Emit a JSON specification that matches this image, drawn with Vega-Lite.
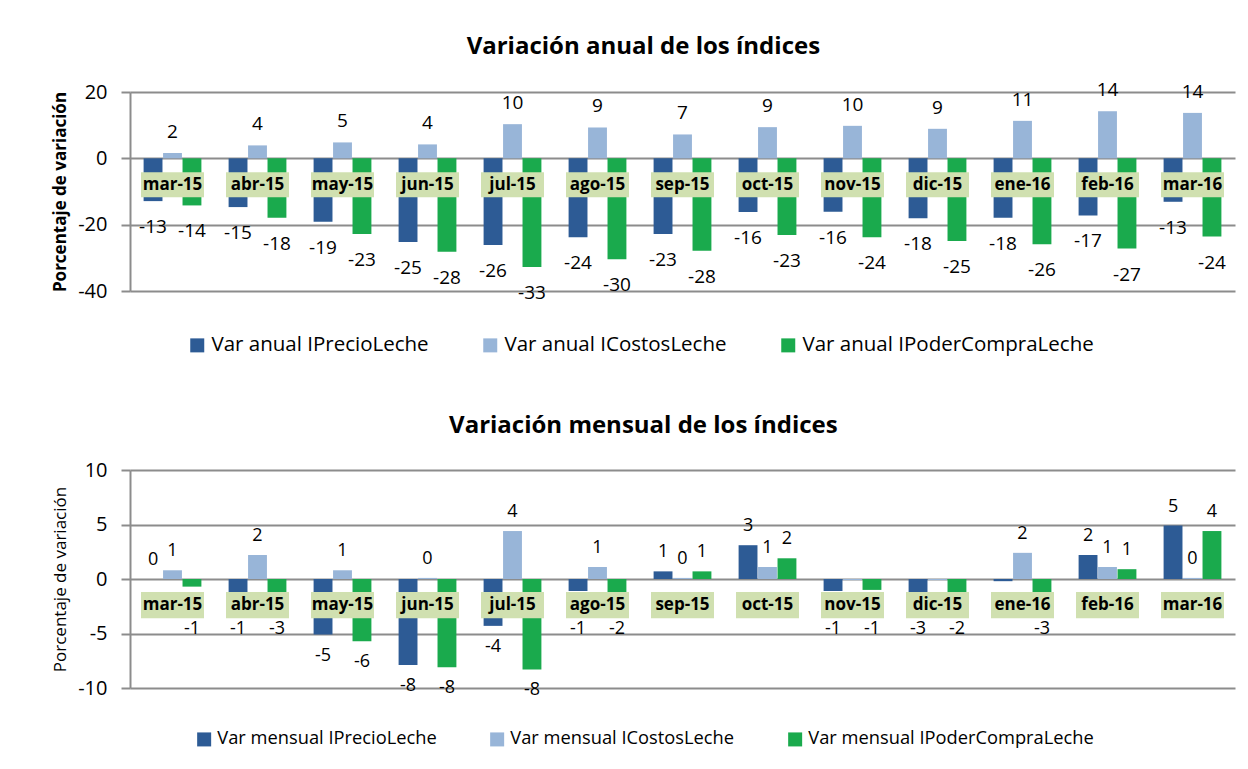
{
  "$schema": "https://vega.github.io/schema/vega-lite/v6.json",
  "background": "white",
  "padding": {"left": 51, "top": 35, "right": 12, "bottom": 10},
  "spacing": 58,
  "config": {
    "font": "Open Sans",
    "view": {"stroke": null},
    "locale": {"number": {"decimal": ".", "thousands": ",", "grouping": [3], "currency": ["$", ""], "minus": "-"}},
    "axis": {
      "gridColor": "#8c8c8c", "gridWidth": 2, "domainColor": "#8c8c8c", "domainWidth": 2,
      "tickColor": "#8c8c8c", "tickWidth": 2, "tickSize": 9, "labelFontSize": 20, "labelColor": "#000000",
      "labelPadding": 14, "titleColor": "#000000", "titleFontSize": 17, "titlePadding": 8
    },
    "title": {"fontSize": 24, "fontWeight": "bold", "color": "#000000", "anchor": "middle", "frame": "bounds", "offset": 22},
    "legend": {
      "orient": "none", "direction": "horizontal", "title": null, "labelColor": "#000000",
      "symbolType": "square", "symbolSize": 196, "symbolStrokeWidth": 0, "columnPadding": 51, "labelOffset": 4, "labelLimit": 0
    }
  },
  "resolve": {"scale": {"color": "independent", "xOffset": "independent"}, "legend": {"color": "independent"}},
  "datasets": {
    "anual": [
      {"mes": "mar-15", "serie": "Var anual IPrecioLeche", "valor": -12.9},
      {"mes": "abr-15", "serie": "Var anual IPrecioLeche", "valor": -14.7},
      {"mes": "may-15", "serie": "Var anual IPrecioLeche", "valor": -19.1},
      {"mes": "jun-15", "serie": "Var anual IPrecioLeche", "valor": -25.2},
      {"mes": "jul-15", "serie": "Var anual IPrecioLeche", "valor": -26.1},
      {"mes": "ago-15", "serie": "Var anual IPrecioLeche", "valor": -23.8},
      {"mes": "sep-15", "serie": "Var anual IPrecioLeche", "valor": -22.8},
      {"mes": "oct-15", "serie": "Var anual IPrecioLeche", "valor": -16.2},
      {"mes": "nov-15", "serie": "Var anual IPrecioLeche", "valor": -16.1},
      {"mes": "dic-15", "serie": "Var anual IPrecioLeche", "valor": -18.1},
      {"mes": "ene-16", "serie": "Var anual IPrecioLeche", "valor": -17.9},
      {"mes": "feb-16", "serie": "Var anual IPrecioLeche", "valor": -17.2},
      {"mes": "mar-16", "serie": "Var anual IPrecioLeche", "valor": -13.1},
      {"mes": "mar-15", "serie": "Var anual ICostosLeche", "valor": 1.6},
      {"mes": "abr-15", "serie": "Var anual ICostosLeche", "valor": 3.9},
      {"mes": "may-15", "serie": "Var anual ICostosLeche", "valor": 4.8},
      {"mes": "jun-15", "serie": "Var anual ICostosLeche", "valor": 4.2},
      {"mes": "jul-15", "serie": "Var anual ICostosLeche", "valor": 10.3},
      {"mes": "ago-15", "serie": "Var anual ICostosLeche", "valor": 9.3},
      {"mes": "sep-15", "serie": "Var anual ICostosLeche", "valor": 7.2},
      {"mes": "oct-15", "serie": "Var anual ICostosLeche", "valor": 9.4},
      {"mes": "nov-15", "serie": "Var anual ICostosLeche", "valor": 9.8},
      {"mes": "dic-15", "serie": "Var anual ICostosLeche", "valor": 8.9},
      {"mes": "ene-16", "serie": "Var anual ICostosLeche", "valor": 11.3},
      {"mes": "feb-16", "serie": "Var anual ICostosLeche", "valor": 14.2},
      {"mes": "mar-16", "serie": "Var anual ICostosLeche", "valor": 13.7},
      {"mes": "mar-15", "serie": "Var anual IPoderCompraLeche", "valor": -14.2},
      {"mes": "abr-15", "serie": "Var anual IPoderCompraLeche", "valor": -17.9},
      {"mes": "may-15", "serie": "Var anual IPoderCompraLeche", "valor": -22.8},
      {"mes": "jun-15", "serie": "Var anual IPoderCompraLeche", "valor": -28.2},
      {"mes": "jul-15", "serie": "Var anual IPoderCompraLeche", "valor": -32.8},
      {"mes": "ago-15", "serie": "Var anual IPoderCompraLeche", "valor": -30.4},
      {"mes": "sep-15", "serie": "Var anual IPoderCompraLeche", "valor": -27.9},
      {"mes": "oct-15", "serie": "Var anual IPoderCompraLeche", "valor": -23.1},
      {"mes": "nov-15", "serie": "Var anual IPoderCompraLeche", "valor": -23.8},
      {"mes": "dic-15", "serie": "Var anual IPoderCompraLeche", "valor": -24.9},
      {"mes": "ene-16", "serie": "Var anual IPoderCompraLeche", "valor": -25.9},
      {"mes": "feb-16", "serie": "Var anual IPoderCompraLeche", "valor": -27.2},
      {"mes": "mar-16", "serie": "Var anual IPoderCompraLeche", "valor": -23.6}
    ],
    "mensual": [
      {"mes": "mar-15", "serie": "Var mensual IPrecioLeche", "valor": 0.0},
      {"mes": "abr-15", "serie": "Var mensual IPrecioLeche", "valor": -1.2},
      {"mes": "may-15", "serie": "Var mensual IPrecioLeche", "valor": -5.1},
      {"mes": "jun-15", "serie": "Var mensual IPrecioLeche", "valor": -7.9},
      {"mes": "jul-15", "serie": "Var mensual IPrecioLeche", "valor": -4.3},
      {"mes": "ago-15", "serie": "Var mensual IPrecioLeche", "valor": -1.1},
      {"mes": "sep-15", "serie": "Var mensual IPrecioLeche", "valor": 0.7},
      {"mes": "oct-15", "serie": "Var mensual IPrecioLeche", "valor": 3.1},
      {"mes": "nov-15", "serie": "Var mensual IPrecioLeche", "valor": -1.1},
      {"mes": "dic-15", "serie": "Var mensual IPrecioLeche", "valor": -2.9},
      {"mes": "ene-16", "serie": "Var mensual IPrecioLeche", "valor": -0.2},
      {"mes": "feb-16", "serie": "Var mensual IPrecioLeche", "valor": 2.2},
      {"mes": "mar-16", "serie": "Var mensual IPrecioLeche", "valor": 4.9},
      {"mes": "mar-15", "serie": "Var mensual ICostosLeche", "valor": 0.8},
      {"mes": "abr-15", "serie": "Var mensual ICostosLeche", "valor": 2.2},
      {"mes": "may-15", "serie": "Var mensual ICostosLeche", "valor": 0.8},
      {"mes": "jun-15", "serie": "Var mensual ICostosLeche", "valor": 0.1},
      {"mes": "jul-15", "serie": "Var mensual ICostosLeche", "valor": 4.4},
      {"mes": "ago-15", "serie": "Var mensual ICostosLeche", "valor": 1.1},
      {"mes": "sep-15", "serie": "Var mensual ICostosLeche", "valor": 0.1},
      {"mes": "oct-15", "serie": "Var mensual ICostosLeche", "valor": 1.1},
      {"mes": "nov-15", "serie": "Var mensual ICostosLeche", "valor": -0.1},
      {"mes": "dic-15", "serie": "Var mensual ICostosLeche", "valor": -0.1},
      {"mes": "ene-16", "serie": "Var mensual ICostosLeche", "valor": 2.4},
      {"mes": "feb-16", "serie": "Var mensual ICostosLeche", "valor": 1.1},
      {"mes": "mar-16", "serie": "Var mensual ICostosLeche", "valor": 0.1},
      {"mes": "mar-15", "serie": "Var mensual IPoderCompraLeche", "valor": -0.7},
      {"mes": "abr-15", "serie": "Var mensual IPoderCompraLeche", "valor": -2.8},
      {"mes": "may-15", "serie": "Var mensual IPoderCompraLeche", "valor": -5.7},
      {"mes": "jun-15", "serie": "Var mensual IPoderCompraLeche", "valor": -8.1},
      {"mes": "jul-15", "serie": "Var mensual IPoderCompraLeche", "valor": -8.3},
      {"mes": "ago-15", "serie": "Var mensual IPoderCompraLeche", "valor": -1.8},
      {"mes": "sep-15", "serie": "Var mensual IPoderCompraLeche", "valor": 0.7},
      {"mes": "oct-15", "serie": "Var mensual IPoderCompraLeche", "valor": 1.9},
      {"mes": "nov-15", "serie": "Var mensual IPoderCompraLeche", "valor": -1.0},
      {"mes": "dic-15", "serie": "Var mensual IPoderCompraLeche", "valor": -2.2},
      {"mes": "ene-16", "serie": "Var mensual IPoderCompraLeche", "valor": -2.7},
      {"mes": "feb-16", "serie": "Var mensual IPoderCompraLeche", "valor": 0.9},
      {"mes": "mar-16", "serie": "Var mensual IPoderCompraLeche", "valor": 4.4}
    ]
  },
  "vconcat": [
    {
      "data": {"name": "anual"},
      "width": 1105,
      "height": 199,
      "title": {"text": "Variación anual de los índices"},
      "encoding": {
        "x": {"field": "mes", "type": "nominal", "axis": null,
              "scale": {"domain": ["mar-15","abr-15","may-15","jun-15","jul-15","ago-15","sep-15","oct-15","nov-15","dic-15","ene-16","feb-16","mar-16"], "paddingInner": 0.32, "paddingOuter": 0.16}}
      },
      "layer": [
        {
          "mark": {"type": "bar"},
          "encoding": {
            "xOffset": {"field": "serie", "type": "nominal", "scale": {"domain": ["Var anual IPrecioLeche", "Var anual ICostosLeche", "Var anual IPoderCompraLeche"], "paddingInner": 0.03, "paddingOuter": 0}},
            "y": {"field": "valor", "type": "quantitative", "scale": {"domain": [-40, 20], "nice": false},
                  "axis": {"values": [-40, -20, 0, 20], "title": "Porcentaje de variación", "titleFontWeight": "bold"}},
            "color": {"field": "serie", "type": "nominal",
                      "scale": {"domain": ["Var anual IPrecioLeche", "Var anual ICostosLeche", "Var anual IPoderCompraLeche"], "range": ["#2d5b95", "#98b5d8", "#1aaa4d"]},
                      "legend": {"legendX": 57, "legendY": 243, "labelFontSize": 20.5}}
          }
        },
        {
          "transform": [{"filter": "datum.valor >= 0"}],
          "mark": {"type": "text", "baseline": "bottom", "dy": -11, "fontSize": 19, "color": "#000000"},
          "encoding": {
            "xOffset": {"field": "serie", "type": "nominal", "scale": {"domain": ["Var anual IPrecioLeche", "Var anual ICostosLeche", "Var anual IPoderCompraLeche"]}},
            "y": {"field": "valor", "type": "quantitative"},
            "text": {"field": "valor", "type": "quantitative", "format": ".0f"}
          }
        },
        {
          "transform": [{"filter": "datum.valor < 0"}],
          "mark": {"type": "text", "baseline": "top", "dy": 17, "fontSize": 19, "color": "#000000"},
          "encoding": {
            "xOffset": {"field": "serie", "type": "nominal", "scale": {"domain": ["Var anual IPrecioLeche", "Var anual ICostosLeche", "Var anual IPoderCompraLeche"]}},
            "y": {"field": "valor", "type": "quantitative"},
            "text": {"field": "valor", "type": "quantitative", "format": ".0f"}
          }
        },
        {
          "transform": [{"filter": "datum.serie === 'Var anual IPrecioLeche'"}],
          "mark": {"type": "bar", "width": 63, "color": "#d0e0b0"},
          "encoding": {"y": {"datum": -4.2}, "y2": {"datum": -11.7}}
        },
        {
          "transform": [{"filter": "datum.serie === 'Var anual IPrecioLeche'"}],
          "mark": {"type": "text", "fontSize": 17, "fontWeight": "bold", "color": "#000000"},
          "encoding": {"y": {"datum": -8}, "text": {"field": "mes"}}
        }
      ]
    },
    {
      "data": {"name": "mensual"},
      "width": 1105,
      "height": 218,
      "title": {"text": "Variación mensual de los índices"},
      "encoding": {
        "x": {"field": "mes", "type": "nominal", "axis": null,
              "scale": {"domain": ["mar-15","abr-15","may-15","jun-15","jul-15","ago-15","sep-15","oct-15","nov-15","dic-15","ene-16","feb-16","mar-16"], "paddingInner": 0.32, "paddingOuter": 0.16}}
      },
      "layer": [
        {
          "mark": {"type": "bar"},
          "encoding": {
            "xOffset": {"field": "serie", "type": "nominal", "scale": {"domain": ["Var mensual IPrecioLeche", "Var mensual ICostosLeche", "Var mensual IPoderCompraLeche"], "paddingInner": 0.03, "paddingOuter": 0}},
            "y": {"field": "valor", "type": "quantitative", "scale": {"domain": [-10, 10], "nice": false},
                  "axis": {"values": [-10, -5, 0, 5, 10], "title": "Porcentaje de variación", "titleFontWeight": "normal"}},
            "color": {"field": "serie", "type": "nominal",
                      "scale": {"domain": ["Var mensual IPrecioLeche", "Var mensual ICostosLeche", "Var mensual IPoderCompraLeche"], "range": ["#2d5b95", "#98b5d8", "#1aaa4d"]},
                      "legend": {"legendX": 65, "legendY": 260, "labelFontSize": 18.3}}
          }
        },
        {
          "mark": {"type": "rule", "color": "#3a1e00", "strokeWidth": 2.5},
          "encoding": {"y": {"datum": 0}}
        },
        {
          "transform": [{"filter": "datum.valor >= 0"}],
          "mark": {"type": "text", "baseline": "bottom", "dy": -10, "fontSize": 18, "color": "#000000"},
          "encoding": {
            "xOffset": {"field": "serie", "type": "nominal", "scale": {"domain": ["Var mensual IPrecioLeche", "Var mensual ICostosLeche", "Var mensual IPoderCompraLeche"]}},
            "y": {"field": "valor", "type": "quantitative"},
            "text": {"field": "valor", "type": "quantitative", "format": ".0f"}
          }
        },
        {
          "transform": [{"filter": "datum.valor < -0.5 && datum.valor >= -3.5"}],
          "mark": {"type": "text", "baseline": "top", "dy": 2, "fontSize": 18, "color": "#000000"},
          "encoding": {
            "xOffset": {"field": "serie", "type": "nominal", "scale": {"domain": ["Var mensual IPrecioLeche", "Var mensual ICostosLeche", "Var mensual IPoderCompraLeche"]}},
            "y": {"datum": -3.6},
            "text": {"field": "valor", "type": "quantitative", "format": ".0f"}
          }
        },
        {
          "transform": [{"filter": "datum.valor < -3.5"}],
          "mark": {"type": "text", "baseline": "top", "dy": 12, "fontSize": 18, "color": "#000000"},
          "encoding": {
            "xOffset": {"field": "serie", "type": "nominal", "scale": {"domain": ["Var mensual IPrecioLeche", "Var mensual ICostosLeche", "Var mensual IPoderCompraLeche"]}},
            "y": {"field": "valor", "type": "quantitative"},
            "text": {"field": "valor", "type": "quantitative", "format": ".0f"}
          }
        },
        {
          "transform": [{"filter": "datum.serie === 'Var mensual IPrecioLeche'"}],
          "mark": {"type": "bar", "width": 63, "color": "#d0e0b0"},
          "encoding": {"y": {"datum": -1.2}, "y2": {"datum": -3.6}}
        },
        {
          "transform": [{"filter": "datum.serie === 'Var mensual IPrecioLeche'"}],
          "mark": {"type": "text", "fontSize": 17, "fontWeight": "bold", "color": "#000000"},
          "encoding": {"y": {"datum": -2.4}, "text": {"field": "mes"}}
        }
      ]
    }
  ]
}
